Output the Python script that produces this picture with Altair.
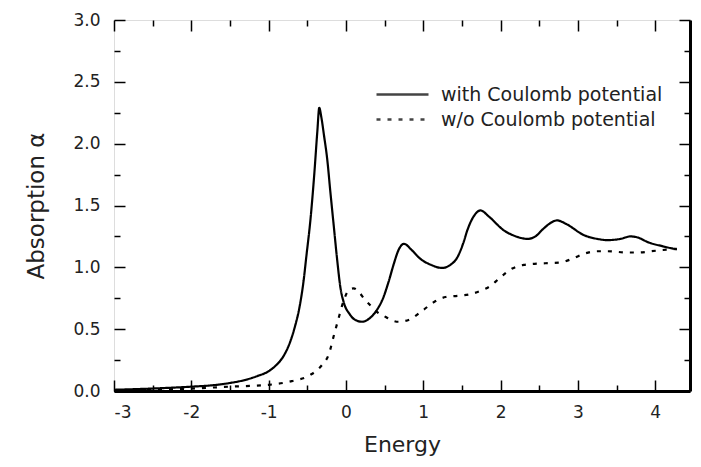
import altair as alt
import pandas as pd

# ---- data ----
series_names = ["with Coulomb potential", "w/o Coulomb potential"]

with_E = [-3.0, -2.5, -2.0, -1.75, -1.5, -1.3, -1.15, -1.0, -0.9, -0.8, -0.72, -0.66,
          -0.60, -0.55, -0.51, -0.46, -0.41, -0.37, -0.345, -0.32, -0.28, -0.245, -0.20,
          -0.16, -0.115, -0.07, -0.03, 0.05, 0.12, 0.21, 0.30, 0.40, 0.48, 0.55, 0.62,
          0.68, 0.75, 0.85, 0.96, 1.10, 1.245, 1.35, 1.44, 1.52, 1.57, 1.65, 1.74, 1.85,
          2.04, 2.20, 2.35, 2.45, 2.55, 2.65, 2.73, 2.85, 3.08, 3.25, 3.38, 3.55, 3.68,
          3.78, 3.90, 4.10, 4.28]
with_A = [0.01, 0.02, 0.035, 0.045, 0.065, 0.09, 0.12, 0.16, 0.21, 0.29, 0.40, 0.52,
          0.68, 0.88, 1.10, 1.38, 1.75, 2.10, 2.29, 2.22, 2.05, 1.89, 1.60,
          1.35, 1.07, 0.83, 0.72, 0.62, 0.575, 0.56, 0.585, 0.655, 0.75, 0.88, 1.03,
          1.14, 1.19, 1.14, 1.07, 1.02, 0.995, 1.02, 1.08, 1.20, 1.30, 1.41, 1.46, 1.41,
          1.30, 1.25, 1.23, 1.25, 1.31, 1.36, 1.38, 1.35, 1.26, 1.23, 1.22, 1.23, 1.25,
          1.24, 1.205, 1.17, 1.145]

wo_E = [-3.0, -2.5, -2.0, -1.5, -1.0, -0.7, -0.46, -0.31, -0.22, -0.16, -0.09, -0.03,
        0.03, 0.10, 0.17, 0.23, 0.32, 0.40, 0.51, 0.60, 0.68, 0.83, 0.99, 1.14, 1.29,
        1.45, 1.59, 1.74, 1.87, 2.00, 2.15, 2.30, 2.48, 2.65, 2.78, 2.93, 3.08, 3.25,
        3.38, 3.64, 3.80, 3.94, 4.10, 4.28]
wo_A = [0.0, 0.01, 0.02, 0.035, 0.05, 0.08, 0.13, 0.21, 0.30, 0.44, 0.60, 0.73,
        0.81, 0.83, 0.80, 0.75, 0.69, 0.64, 0.60, 0.57, 0.56, 0.58, 0.65, 0.72, 0.76,
        0.77, 0.78, 0.81, 0.85, 0.92, 0.99, 1.02, 1.03, 1.035, 1.04, 1.07, 1.11, 1.13,
        1.13, 1.12, 1.12, 1.13, 1.14, 1.15]

x_major = [-3, -2, -1, 0, 1, 2, 3, 4]
x_minor = [-2.5, -1.5, -0.5, 0.5, 1.5, 2.5, 3.5]
y_major = [0.0, 0.5, 1.0, 1.5, 2.0, 2.5, 3.0]
y_minor = [0.25, 0.75, 1.25, 1.75, 2.25, 2.75]

df = pd.concat([
    pd.DataFrame({"E": with_E, "A": with_A, "series": series_names[0]}),
    pd.DataFrame({"E": wo_E, "A": wo_A, "series": series_names[1]}),
], ignore_index=True)

FONT = "DejaVu Sans"
xs = alt.Scale(domain=[-3, 4.45], nice=False, zero=False)
ys = alt.Scale(domain=[0, 3], nice=False, zero=False)

MAJ, MIN = 11, 6


def xaxis(orient, values, size, labels=False, title=None):
    kw = dict(orient=orient, values=values, tickSize=size, offset=-size, domain=False,
              grid=False, ticks=True, tickColor="black", tickWidth=1.5, labels=labels)
    if labels:
        kw.update(labelFont=FONT, labelFontSize=17, labelColor="#222", labelPadding=13,
                  labelExpr="'' + datum.value")
    if title:
        kw.update(title=title, titleFont=FONT, titleFontSize=22, titleFontWeight="normal",
                  titleColor="#222", titlePadding=14)
    else:
        kw.update(title=None)
    return alt.Axis(**kw)


def yaxis(orient, values, size, labels=False, title=None):
    kw = dict(orient=orient, values=values, tickSize=size, offset=-size, domain=False,
              grid=False, ticks=True, tickColor="black", tickWidth=1.5, labels=labels)
    if labels:
        kw.update(labelFont=FONT, labelFontSize=17, labelColor="#222", labelPadding=14,
                  format=".1f")
    if title:
        kw.update(title=title, titleFont=FONT, titleFontSize=23, titleFontWeight="normal",
                  titleColor="#222", titlePadding=24)
    else:
        kw.update(title=None)
    return alt.Axis(**kw)


def frame_axis(orient):
    return alt.Axis(orient=orient, domain=True, domainColor="black", domainWidth=3,
                    ticks=False, labels=False, grid=False, title=None)


base = alt.Chart(df)

lines = base.mark_line(color="black", strokeWidth=2.2, interpolate="monotone").encode(
    x=alt.X("E:Q", scale=xs, axis=xaxis("bottom", x_major, MAJ, labels=True, title="Energy")),
    y=alt.Y("A:Q", scale=ys, axis=yaxis("left", y_major, MAJ, labels=True, title="Absorption α")),
    strokeDash=alt.StrokeDash(
        "series:N",
        scale=alt.Scale(domain=series_names, range=[[1, 0], [4, 7]]),
        legend=alt.Legend(orient="none", legendX=261, legendY=62, title=None,
                          symbolType="stroke", symbolSize=2704, symbolStrokeWidth=2.5,
                          symbolStrokeColor="#444", labelFont=FONT, labelFontSize=19,
                          labelColor="#222", labelOffset=11, rowPadding=0,
                          clipHeight=25, labelLimit=400),
    ),
    detail="series:N",
)

ghost = base.mark_line(opacity=0).encode(detail="series:N")

minor_bl = ghost.encode(
    x=alt.X("E:Q", scale=xs, axis=xaxis("bottom", x_minor, MIN)),
    y=alt.Y("A:Q", scale=ys, axis=yaxis("left", y_minor, MIN)),
)
major_tr = ghost.encode(
    x=alt.X("E:Q", scale=xs, axis=xaxis("top", x_major, MAJ)),
    y=alt.Y("A:Q", scale=ys, axis=yaxis("right", y_major, MAJ)),
)
minor_tr = ghost.encode(
    x=alt.X("E:Q", scale=xs, axis=xaxis("top", x_minor, MIN)),
    y=alt.Y("A:Q", scale=ys, axis=yaxis("right", y_minor, MIN)),
)
frame_br = ghost.encode(
    x=alt.X("E:Q", scale=xs, axis=frame_axis("bottom")),
    y=alt.Y("A:Q", scale=ys, axis=frame_axis("right")),
)

chart = alt.layer(lines, minor_bl, major_tr, minor_tr, frame_br).resolve_axis(
    x="independent", y="independent"
).properties(
    width=576, height=371, autosize="none",
    padding={"left": 106, "top": 12, "right": 3, "bottom": 68},
).configure_view(stroke="#555", strokeWidth=1.6).configure(background="white")

chart.save("out.html", embed_options={"renderer": "svg", "actions": False})
